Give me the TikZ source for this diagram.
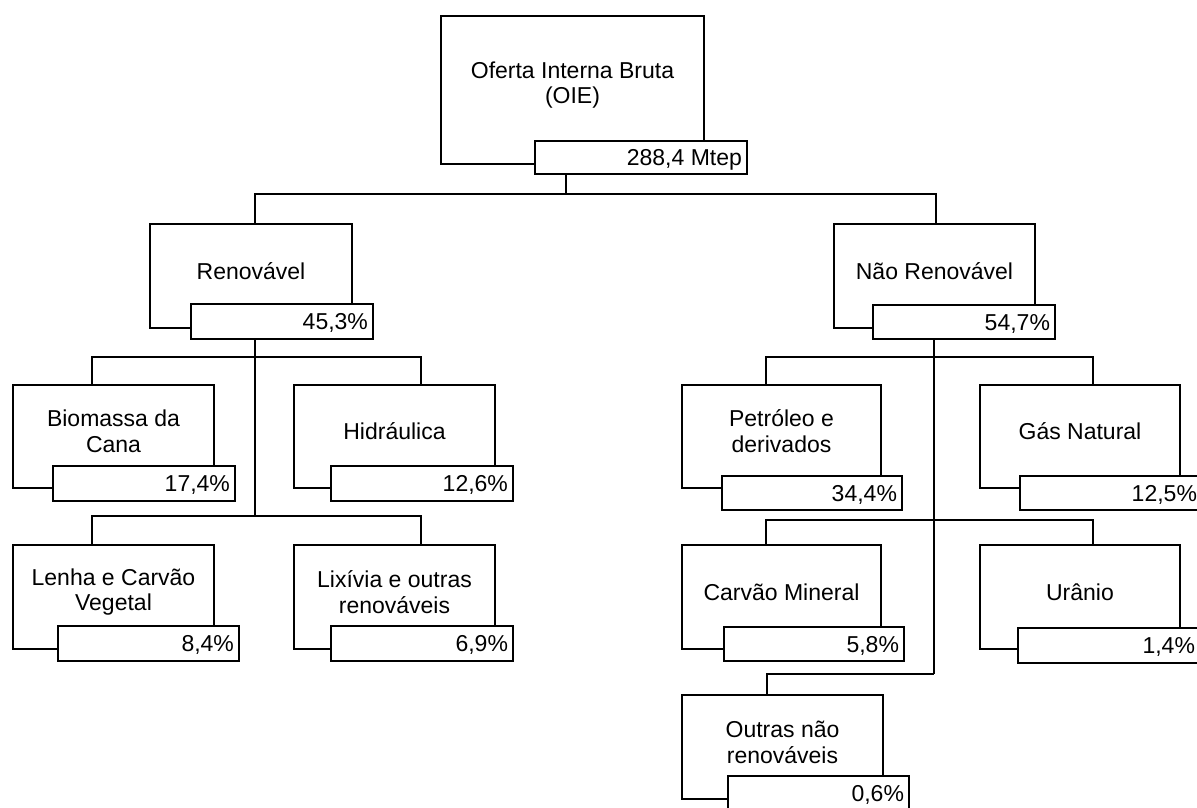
\documentclass[tikz,border=0pt]{standalone}
\usepackage{fontspec}
\setmainfont{Liberation Sans}
\tikzset{
  mainbox/.style={draw, line width=1.3pt, inner sep=0pt, fill=white},
  valbox/.style={draw, line width=1.3pt, inner sep=0pt, fill=white},
  btext/.style={align=center, inner sep=0pt},
  vtext/.style={anchor=base east, inner sep=0pt},
  conn/.style={line width=1.3pt},
}
\newcommand\mybox[6]{%
  \node[mainbox, minimum width={(#4-#2)*1pt}, minimum height={(#5-#3)*1pt}] (#1) at ({(#2+#4)/2},{(#3+#5)/2}) {};
  \node[btext] (#1t) at ([yshift=5pt]#1.center) {#6};
}
\newcommand\myval[6]{%
  \node[valbox, minimum width={(#4-#2)*1pt}, minimum height={(#5-#3)*1pt}] (#1) at ({(#2+#4)/2},{(#3+#5)/2}) {};
  \node[vtext] (#1t) at ([xshift=-5.5pt,yshift=-8.3pt]#1.east) {#6};
}
\begin{document}
\begin{tikzpicture}[x=1pt, y=-1pt, font=\fontsize{23pt}{25.8pt}\selectfont]
\useasboundingbox (0,0) rectangle (1197,808);
\clip (0,0) rectangle (1197,808);

% boxes
\mybox{oie}{441}{16}{704}{164}{Oferta Interna Bruta\\(OIE)}
\myval{oiev}{535}{141}{747}{174}{288,4 Mtep}

\mybox{ren}{150}{224}{352}{328}{Renovável}
\myval{renv}{191}{304}{373}{339}{45,3\%}

\mybox{nren}{834}{224}{1035}{328}{Não Renovável}
\myval{nrenv}{873}{305}{1055}{339}{54,7\%}

\mybox{bio}{13}{385}{214}{488}{Biomassa da\\Cana}
\myval{biov}{53}{466}{235}{501}{17,4\%}

\mybox{hid}{294}{385}{495}{488}{Hidráulica}
\myval{hidv}{331}{466}{513}{501}{12,6\%}

\mybox{len}{13}{545}{214}{649}{Lenha e Carvão\\Vegetal}
\myval{lenv}{58}{626}{239}{661}{8,4\%}

\mybox{lix}{294}{545}{495}{649}{Lixívia e outras\\renováveis}
\myval{lixv}{331}{626}{513}{661}{6,9\%}

\mybox{pet}{682}{385}{881}{488}{Petróleo e\\derivados}
\myval{petv}{722}{476}{902}{510}{34,4\%}

\mybox{gas}{980}{385}{1180}{488}{Gás Natural}
\myval{gasv}{1020}{476}{1202}{510}{12,5\%}

\mybox{car}{682}{545}{881}{649}{Carvão Mineral}
\myval{carv}{724}{627}{904}{661}{5,8\%}

\mybox{ura}{980}{545}{1180}{649}{Urânio}
\myval{urav}{1018}{628}{1200}{663}{1,4\%}

\mybox{out}{682}{695}{883}{799}{Outras não\\renováveis}
\myval{outv}{728}{776}{909}{811}{0,6\%}

% junctions
\coordinate (j0) at (566,194);
\coordinate (r1) at (255,357);
\coordinate (r2) at (255,516);
\coordinate (n1) at (934,357);
\coordinate (n2) at (934,520);
\coordinate (n3) at (934,674);

% connectors
\draw[conn] (oiev.south -| j0) -- (j0);
\draw[conn] ([xshift=4pt]ren.north) |- (j0) -| ([xshift=1.5pt]nren.north);

\draw[conn] (renv.south -| r2) -- (r2);
\draw[conn] ([xshift=-21.5pt]bio.north) |- (r1) -| ([xshift=26.5pt]hid.north);
\draw[conn] ([xshift=-21.5pt]len.north) |- (r2) -| ([xshift=26.5pt]lix.north);

\draw[conn] (nrenv.south -| n3) -- (n3);
\draw[conn] ([xshift=-15.5pt]pet.north) |- (n1) -| ([xshift=13pt]gas.north);
\draw[conn] ([xshift=-15.5pt]car.north) |- (n2) -| ([xshift=13pt]ura.north);
\draw[conn] ([xshift=-15.5pt]out.north) |- (n3);
\end{tikzpicture}
\end{document}
